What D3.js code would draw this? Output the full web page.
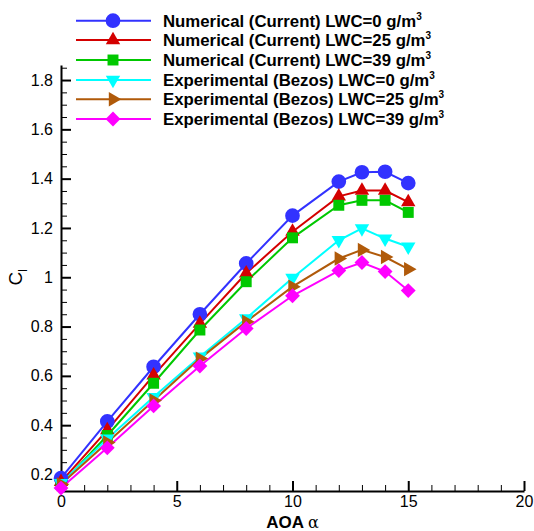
<!DOCTYPE html>
<html><head><meta charset="utf-8">
<script src="https://cdn.jsdelivr.net/npm/d3@7"></script>
<style>body{margin:0;background:#fff;} svg{display:block;}</style>
</head><body>
<script>
const aoa = [0, 2, 4, 6, 8, 10, 12, 13, 14, 15];
const numLWC0  = [0.185, 0.415, 0.637, 0.850, 1.056, 1.250, 1.388, 1.426, 1.428, 1.382];
const numLWC25 = [0.170, 0.380, 0.602, 0.812, 1.016, 1.185, 1.328, 1.352, 1.352, 1.305];
const numLWC39 = [0.160, 0.358, 0.570, 0.786, 0.982, 1.160, 1.292, 1.312, 1.312, 1.263];
const expLWC0  = [0.165, 0.345, 0.514, 0.678, 0.833, 0.997, 1.150, 1.198, 1.157, 1.124];
const expLWC25 = [0.160, 0.330, 0.500, 0.670, 0.820, 0.962, 1.076, 1.111, 1.082, 1.033];
const expLWC39 = [0.145, 0.308, 0.478, 0.640, 0.792, 0.925, 1.027, 1.060, 1.023, 0.946];
const seriesNames = [
  ["Numerical (Current) LWC=0 g/m", "3"],
  ["Numerical (Current) LWC=25 g/m", "3"],
  ["Numerical (Current) LWC=39 g/m", "3"],
  ["Experimental (Bezos) LWC=0 g/m", "3"],
  ["Experimental (Bezos) LWC=25 g/m", "3"],
  ["Experimental (Bezos) LWC=39 g/m", "3"]
];
const xTicks = [0, 5, 10, 15, 20];
const xTickLabels = ["0", "5", "10", "15", "20"];
const yTicks = [0.2, 0.4, 0.6, 0.8, 1.0, 1.2, 1.4, 1.6, 1.8];
const yTickLabels = ["0.2", "0.4", "0.6", "0.8", "1", "1.2", "1.4", "1.6", "1.8"];

const W = 534, H = 531;
const svg = d3.select("body").append("svg").attr("width", W).attr("height", H);

const x = d3.scaleLinear().domain([0, 20]).range([61, 524]);
const y = d3.scaleLinear().domain([0.133, 1.861]).range([491, 65]);

const seriesVals = [numLWC0, numLWC25, numLWC39, expLWC0, expLWC25, expLWC39];
const colors = ["#3232ff", "#d40000", "#00c800", "#00ffff", "#b05a0a", "#ff00ff"];
const symDefs = [
  {type: d3.symbolCircle, size: 170, rot: 0},
  {type: d3.symbolTriangle, size: 90, rot: 0},
  {type: d3.symbolSquare, size: 120, rot: 0},
  {type: d3.symbolTriangle, size: 90, rot: 180},
  {type: d3.symbolTriangle, size: 90, rot: 90},
  {type: d3.symbolSquare, size: 110, rot: 45}
];
const font = "Arial, 'Liberation Sans', sans-serif";

// axes
const xMinor = d3.range(0, 21, 1).filter(v => v % 5 !== 0);
const yMinor = d3.range(3, 38).map(i => +(i * 0.05).toFixed(2)).filter(v => Math.abs(v * 5 - Math.round(v * 5)) > 1e-6);

const gx = svg.append("g").attr("transform", `translate(0,${y.range()[0]})`);
gx.call(d3.axisBottom(x).tickValues(xMinor).tickSize(-6).tickSizeOuter(0).tickFormat(""));
gx.call(g => g.select(".domain").remove());
const gx2 = svg.append("g").attr("transform", `translate(0,${y.range()[0]})`);
gx2.call(d3.axisBottom(x).tickValues(xTicks).tickSize(-10).tickSizeOuter(0).tickPadding(5)
  .tickFormat((d, i) => xTickLabels[i]));
gx2.selectAll(".tick line").attr("stroke-width", 2);
gx2.select(".domain").attr("stroke-width", 2);
gx2.selectAll("text").attr("font-family", font).attr("font-size", 16).attr("fill", "#000");

const gy = svg.append("g").attr("transform", `translate(${x.range()[0]},0)`);
gy.call(d3.axisLeft(y).tickValues(yMinor).tickSize(-6).tickSizeOuter(0).tickFormat(""));
gy.call(g => g.select(".domain").remove());
const gy2 = svg.append("g").attr("transform", `translate(${x.range()[0]},0)`);
gy2.call(d3.axisLeft(y).tickValues(yTicks).tickSize(-10).tickSizeOuter(0).tickPadding(8)
  .tickFormat((d, i) => yTickLabels[i]));
gy2.selectAll(".tick line").attr("stroke-width", 2);
gy2.select(".domain").attr("stroke-width", 2);
gy2.selectAll("text").attr("font-family", font).attr("font-size", 16).attr("fill", "#000");

// axis titles
const xt = svg.append("text").attr("x", x(10)).attr("y", 528).attr("text-anchor", "middle")
  .attr("font-family", font).attr("font-size", 17);
xt.append("tspan").attr("font-weight", "bold").text("AOA ");
xt.append("tspan").attr("font-family", "'DejaVu Serif', serif").attr("font-size", 16).text("α");

const yt = svg.append("text").attr("transform", `translate(22,${y(1.0)}) rotate(-90)`).attr("text-anchor", "middle")
  .attr("font-family", font).attr("font-size", 19);
yt.append("tspan").text("C");
yt.append("tspan").attr("font-size", 12).attr("dy", 5).text("l");

// series
const line = d3.line().x((d, i) => x(aoa[i])).y(d => y(d));
seriesVals.forEach((vals, k) => {
  svg.append("path").datum(vals).attr("d", line).attr("fill", "none")
    .attr("stroke", colors[k]).attr("stroke-width", 2);
});
seriesVals.forEach((vals, k) => {
  const sd = symDefs[k];
  svg.append("g").selectAll("path").data(vals).join("path")
    .attr("d", d3.symbol().type(sd.type).size(sd.size))
    .attr("transform", (d, i) => `translate(${x(aoa[i])},${y(d)}) rotate(${sd.rot})`)
    .attr("fill", colors[k]);
});

// legend
const legRows = [20.7, 40, 60, 80, 99.3, 119];
const leg = svg.append("g");
seriesNames.forEach((nm, k) => {
  const ry = legRows[k];
  leg.append("line").attr("x1", 76).attr("x2", 151).attr("y1", ry).attr("y2", ry)
    .attr("stroke", colors[k]).attr("stroke-width", 2);
  const sd = symDefs[k];
  leg.append("path").attr("d", d3.symbol().type(sd.type).size(sd.size)())
    .attr("transform", `translate(113,${ry}) rotate(${sd.rot})`).attr("fill", colors[k]);
  const t = leg.append("text").attr("x", 163).attr("y", ry + 6)
    .attr("font-family", font).attr("font-weight", "bold").attr("font-size", 16.8);
  t.append("tspan").text(nm[0]);
  t.append("tspan").attr("font-size", 10).attr("dy", -7).text(nm[1]);
});
</script>
</body></html>
